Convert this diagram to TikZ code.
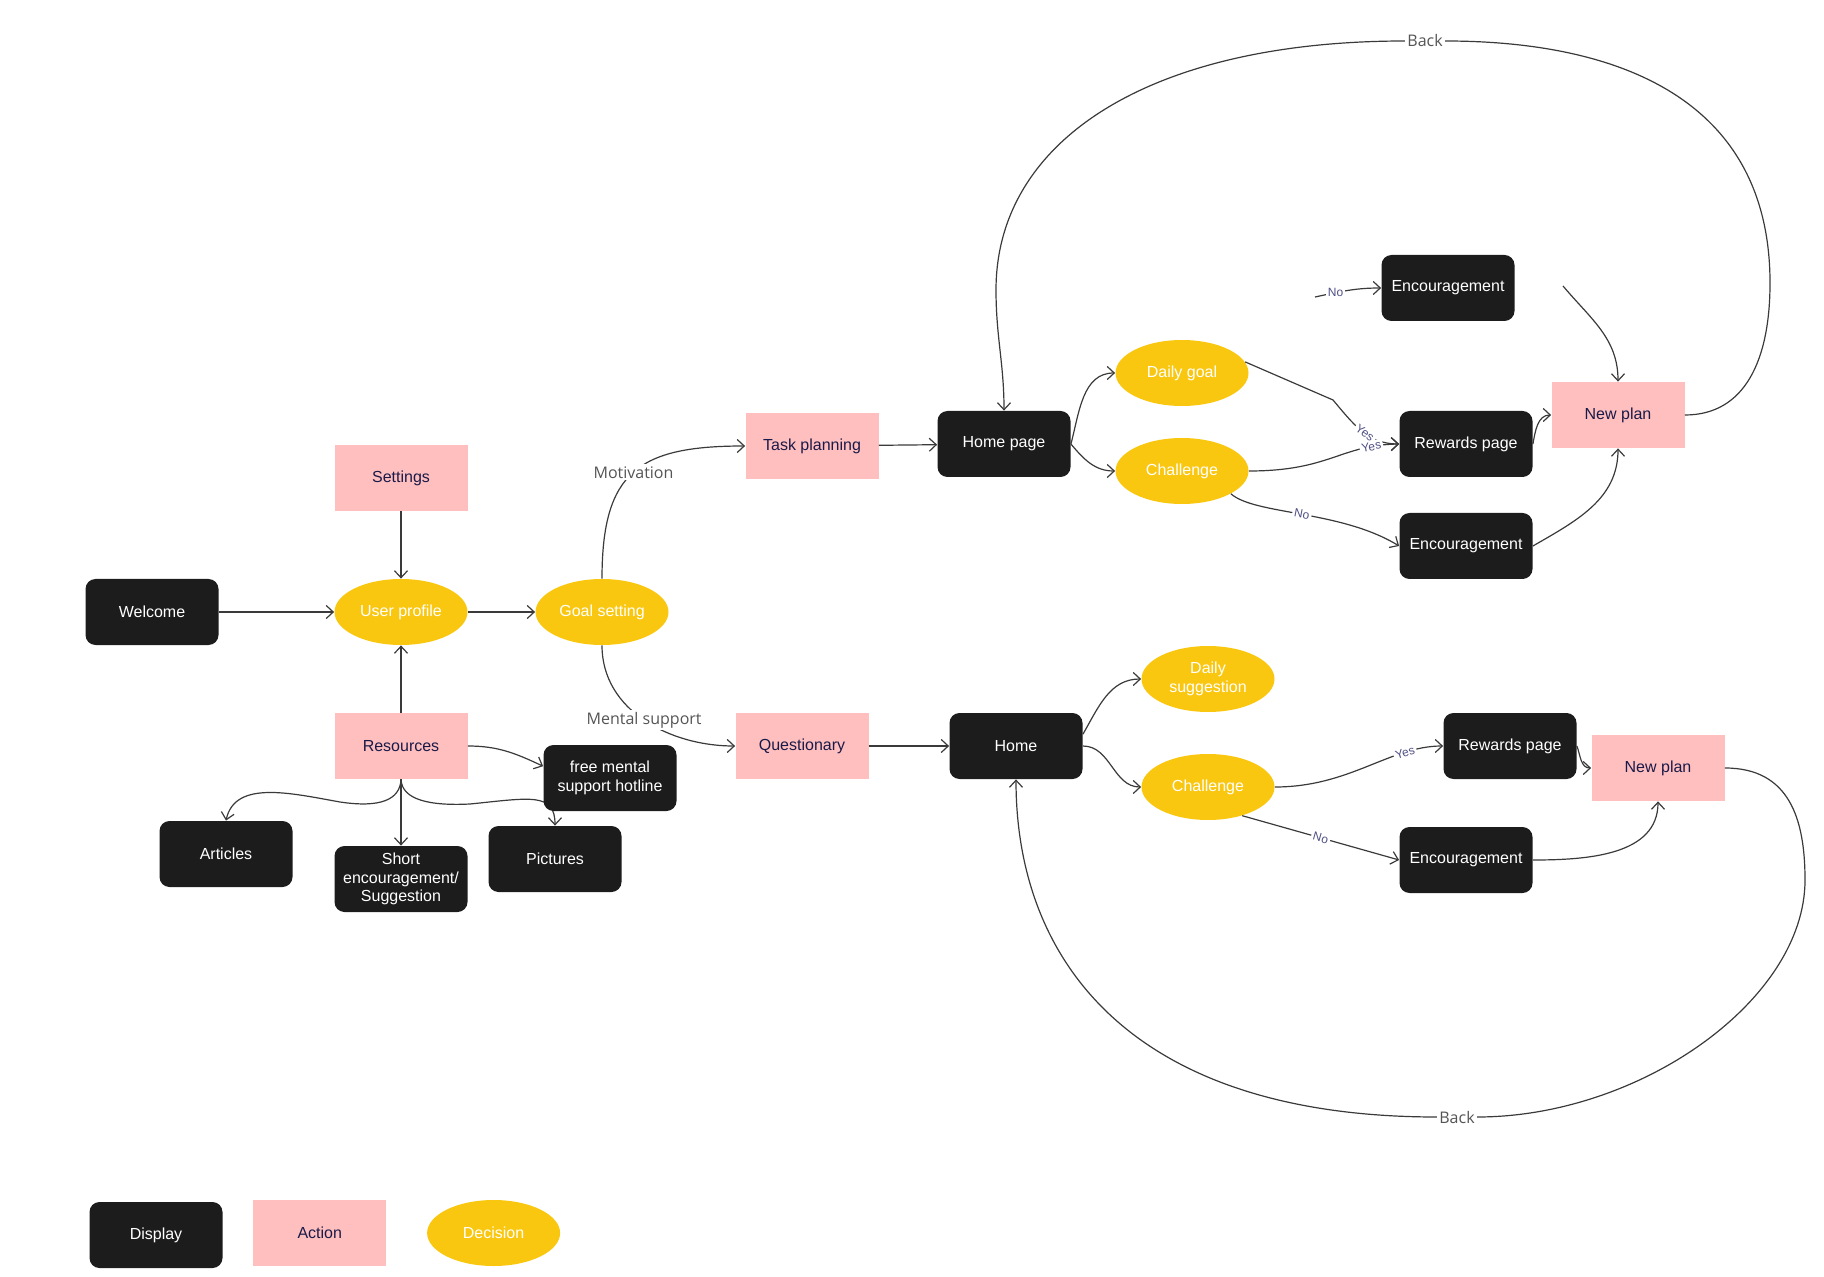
\documentclass[tikz,border=0pt]{standalone}
\usepackage{fontspec}
\setmainfont{Liberation Sans}
\newfontfamily\notefont{Open Sans}
\usepackage{tikz}
\usetikzlibrary{positioning,arrows.meta,shapes.geometric,backgrounds}
\definecolor{inkblack}{HTML}{1C1C1C}
\definecolor{blush}{HTML}{FFBFBF}
\definecolor{sunny}{HTML}{FAC710}
\definecolor{deepnavy}{HTML}{1A1A48}
\definecolor{wire}{HTML}{3A3A3A}
\definecolor{greytext}{HTML}{555555}
\definecolor{answer}{HTML}{4F4F85}
\tikzset{
  screen/.style = {rectangle, rounded corners=5pt, fill=inkblack, text=white, minimum width=66.5pt,
                   minimum height=33pt, inner sep=0pt, align=center, font=\fontsize{8}{9.2}\selectfont},
  action/.style = {rectangle, fill=blush, text=deepnavy, minimum width=66.5pt, minimum height=33pt,
                   inner sep=0pt, align=center, font=\fontsize{8}{9.2}\selectfont},
  choice/.style = {ellipse, fill=sunny, text=white, minimum width=66.5pt, minimum height=33pt,
                   inner sep=0pt, align=center, font=\fontsize{8}{9.2}\selectfont},
  flow/.style   = {-{Straight Barb[length=3.5pt,width=6.5pt]}, line width=0.6pt, draw=wire},
  link/.style   = {line width=0.6pt, draw=wire},
  note/.style   = {font=\notefont\fontsize{8}{9}\selectfont, text=greytext, fill=white, inner sep=1pt},
  yn/.style     = {font=\fontsize{6}{7}\selectfont, text=answer, fill=white, inner sep=1pt},
}
\begin{document}
\begin{tikzpicture}[x=0.5pt, y=-0.5pt]
  \useasboundingbox (0,0) rectangle (1824,1277);

  % left part
  \node[screen] (welcome) at (152,612) {Welcome};
  \node[choice] (profile) at (401,612) {User profile};
  \node[choice] (goal) at (602,612) {Goal setting};
  \node[action] (settings) at (401,478) {Settings};
  \node[action] (resources) at (401,746) {Resources};
  \node[screen] (articles) at (226,854) {Articles};
  \node[screen] (short) at (401,879) {Short\\encouragement/\\Suggestion};
  \node[screen] (pictures) at (555,859) {Pictures};
  \node[screen] (hotline) at (610,778) {free mental\\support hotline};
  \node[action] (taskplan) at (812,446) {Task planning};
  \node[action] (quest) at (802,746) {Questionary};

  % upper branch
  \node[screen] (homepage) at (1004,444) {Home page};
  \node[choice] (dailygoal) at (1182,373) {Daily goal};
  \node[choice] (chalup) at (1182,471) {Challenge};
  \node[screen] (encup) at (1448,288) {Encouragement};
  \node[screen] (rewup) at (1466,444) {Rewards page};
  \node[screen] (encmid) at (1466,546) {Encouragement};
  \node[action] (planup) at (1618,415) {New plan};
  \node[note] (backtop) at (1425,41) {Back};
  \coordinate (nofree) at (1315,297);
  \coordinate (encfree) at (1563,286);

  % lower branch
  \node[screen] (home) at (1016,746) {Home};
  \node[choice] (dailysug) at (1208,679) {Daily\\suggestion};
  \node[choice] (chaldown) at (1208,787) {Challenge};
  \node[screen] (rewdown) at (1510,746) {Rewards page};
  \node[action] (plandown) at (1658,768) {New plan};
  \node[screen] (encdown) at (1466,860) {Encouragement};
  \node[note] (backbot) at (1457,1117) {Back};

  % legend
  \node[screen] (keydisp) at (156,1235) {Display};
  \node[action, right=15pt of keydisp, yshift=1pt] (keyact) {Action};
  \node[choice, right=20pt of keyact] (keydec) {Decision};

  \draw[flow] (welcome) -- (profile);
  \draw[flow] (settings) -- (profile);
  \draw[flow] (resources) -- (profile);
  \draw[flow] (profile) -- (goal);
  \draw[flow] (goal.north) to[out=90,in=180,looseness=1.4] node[note, pos=.5] {Motivation} (taskplan.west);
  \draw[flow] (goal.south) to[out=-90,in=180] node[note, pos=.5] {Mental support} (quest.west);
  \draw[flow] (taskplan) -- (homepage);
  \draw[flow] (quest) -- (home);

  \draw[flow] (resources.east) to[out=0,in=155] (hotline.170);
  \draw[flow] (resources.south) -- (short.north);
  \draw[flow] (resources.south) .. controls (400,800) and (380,808) .. (340,802)
              .. controls (290,793) and (235,780) .. (articles.north);
  \begin{scope}[on background layer]
    \draw[flow] (resources.south) .. controls (402,800) and (430,806) .. (470,804)
                .. controls (530,798) and (555,792) .. (pictures.north);
  \end{scope}

  \draw[flow] (homepage.east) to[out=75,in=180] (dailygoal.west);
  \draw[flow] (homepage.east) to[out=-50,in=180] (chalup.west);
  \draw[flow] (dailygoal.10) -- (1333,400) to[out=-50,in=180] node[yn, sloped, pos=.55] {Yes} (rewup.west);
  \draw[flow] (chalup.east) .. controls (1330,471) and (1340,445) .. node[yn, sloped, pos=.82] {Yes} (rewup.west);
  \draw[flow] (chalup.-25) .. controls (1255,515) and (1340,510) .. node[yn, sloped] {No} (encmid.west);
  \draw[flow] (nofree) to[out=12,in=180] node[yn, pos=.3] {No} (encup.west);
  \draw[flow] (encfree) to[out=-50,in=90] (planup.north);
  \draw[flow] (rewup.east) to[out=80,in=180] (planup.west);
  \draw[flow] (encmid.east) to[out=30,in=-90] (planup.south);
  \draw[link] (planup.east) .. controls (1745,415) and (1770,360) .. (1770,283)
              .. controls (1770,100) and (1620,41) .. (backtop.east);
  \draw[flow] (backtop.west) .. controls (1150,41) and (996,140) .. (996,290)
              to[out=-90,in=90] (homepage.north);

  \draw[flow] (home.10) to[out=60,in=180] (dailysug.west);
  \draw[flow] (home.east) to[out=0,in=180] (chaldown.west);
  \draw[flow] (chaldown.east) .. controls (1350,787) and (1390,746) .. node[yn, sloped, pos=.75] {Yes} (rewdown.west);
  \draw[flow] (chaldown.-40) -- node[yn, sloped] {No} (encdown.west);
  \draw[flow] (rewdown.east) to[out=-70,in=180] (plandown.west);
  \draw[flow] (encdown.east) to[out=0,in=-90] (plandown.south);
  \draw[link] (plandown.east) .. controls (1790,768) and (1805,820) .. (1805,880)
              .. controls (1805,1000) and (1640,1117) .. (backbot.east);
  \draw[flow] (backbot.west) .. controls (1130,1117) and (1016,960) .. (home.south);
\end{tikzpicture}
\end{document}
